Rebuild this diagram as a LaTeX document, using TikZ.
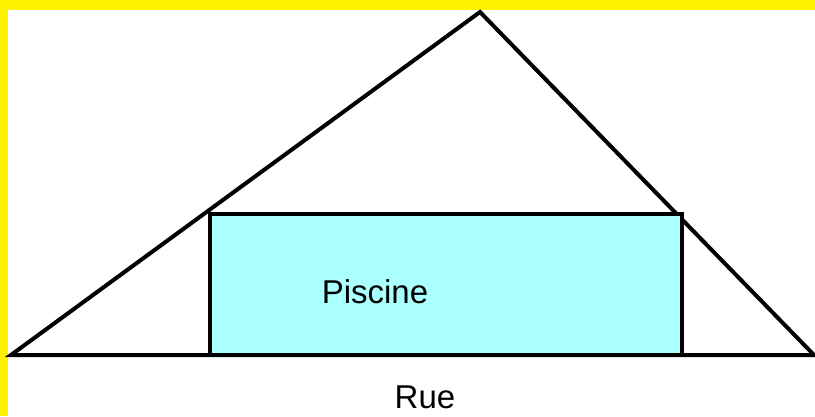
\documentclass[tikz,border=0pt]{standalone}
\usepackage{fontspec}
\setmainfont{Liberation Sans}
\def\terrain{(11,61) -- (480,404) -- (814,61) -- cycle}
\def\bassin{(210,61) rectangle (682,202)}
\definecolor{pool area}{RGB}{170,255,255}
\colorlet{frame edge}{yellow}
\tikzset{
  outline/.style={draw=black, line width=4pt, line join=miter},
  filled/.style={fill=pool area, draw=black, line width=4pt},
  caption/.style={font=\fontsize{33}{39}\selectfont, inner sep=0pt, anchor=base}
  }

\begin{document}
\begin{tikzpicture}[x=1pt,y=1pt]
   \useasboundingbox (0,0) rectangle (815,416);
   % yellow border on the top and left sides
   \fill[frame edge] (0,0) rectangle (815,416);
   \fill[white] (8,0) rectangle (815,406);

   \draw[outline] \terrain;
   \draw[filled] \bassin;

   \node[caption] (piscine) at (375,113) {Piscine};
   \node[caption] (rue) at (425,8) {Rue};
\end{tikzpicture}
\end{document}
